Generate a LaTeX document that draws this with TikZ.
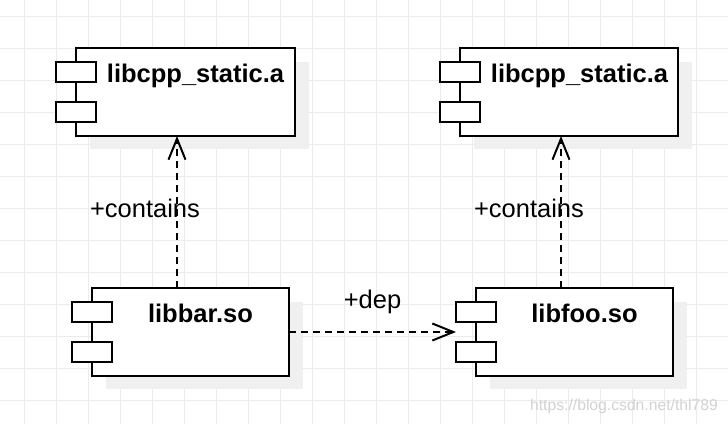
\documentclass[tikz,border=0pt]{standalone}
\usepackage{fontspec}
\setmainfont{Liberation Sans}
\usetikzlibrary{arrows.meta}
\definecolor{gridc}{HTML}{EBEBEB}
\definecolor{shadowc}{HTML}{F0F0F0}
\definecolor{wmark}{HTML}{D2D2D2}
\tikzset{
  gridline/.style={draw=gridc, line width=1pt},
  shadowbox/.style={fill=shadowc, draw=none},
  mainbox/.style={draw=black, fill=white, line width=2pt, inner sep=0pt, outer sep=0pt, anchor=north west},
  portbox/.style={draw=black, fill=white, line width=2pt, inner sep=0pt, outer sep=0pt, anchor=north west, minimum width=40pt, minimum height=20pt},
  titletext/.style={font=\bfseries\fontsize{25.5}{30}\selectfont, anchor=base, inner sep=0pt},
  lbl/.style={font=\fontsize{25.5}{30}\selectfont, anchor=base, inner sep=0pt},
  depline/.style={line width=2pt, dash pattern=on 7pt off 5pt, -{Straight Barb[length=21pt,width=17pt,line width=2pt]}},
}
\newcommand{\compbox}[7]{%
  % #1 name, #2 x1, #3 y1, #4 x2, #5 y2, #6 text x, #7 text
  \fill[shadowbox] (#2+14,#3+14) rectangle (#4+14,#5+13);
  \node[mainbox, minimum width=#4-#2, minimum height=#5-#3] (#1) at (#2,#3) {};
  \node[portbox] (#1p1) at (#2-20,#3+14) {};
  \node[portbox] (#1p2) at (#2-20,#3+54) {};
  \node[titletext] (#1t) at (#6,#3+34) {#7};
}
\begin{document}
\begin{tikzpicture}[x=1pt,y=-1pt]
\useasboundingbox (0,0) rectangle (728,424);
\fill[white] (0,0) rectangle (728,424);
\foreach \gx in {24,56,...,728} { \draw[gridline] (\gx,0) -- (\gx,424); }
\foreach \gy in {16,48,...,424} { \draw[gridline] (0,\gy) -- (728,\gy); }

\compbox{A}{76}{48}{295}{136}{195.5}{libcpp\_static.a}
\compbox{B}{460}{48}{678}{136}{579.5}{libcpp\_static.a}
\compbox{C}{92}{288}{289}{376}{200.5}{libbar.so}
\compbox{D}{476}{288}{673}{376}{584.5}{libfoo.so}

\draw[depline] (177,0 |- C.north) -- (177,0 |- A.south);
\draw[depline] (561,0 |- D.north) -- (561,0 |- B.south);
\draw[depline] (C.east) -- (C.east -| Dp1.west);

\node[lbl] (l1) at (145,217) {+contains};
\node[lbl] (l2) at (529,217) {+contains};
\node[lbl] (l3) at (372.5,308) {+dep};
\node[font=\fontsize{15.7}{18}\selectfont, text=wmark, anchor=base east, inner sep=0pt] (wm) at (718,410) {https://blog.csdn.net/thl789};
\end{tikzpicture}
\end{document}
